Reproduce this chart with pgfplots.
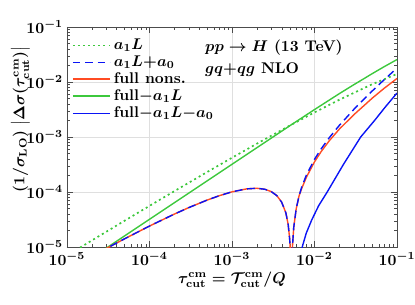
\documentclass[border=0pt]{standalone}
\usepackage{pgfplots}
\pgfplotsset{compat=1.18}
\definecolor{cgreen}{RGB}{60,200,60}
\definecolor{cblue}{RGB}{10,20,245}
\definecolor{cred}{RGB}{255,75,35}
\begin{document}
\boldmath\bfseries
\begin{tikzpicture}
\begin{loglogaxis}[
  width=213pt, height=142pt, scale only axis,
  xmin=1e-5,xmax=1e-1,ymin=1e-5,ymax=1e-1,
  grid=major, major grid style={gray!25},
  axis line style={gray!60!black},
  tick style={gray!60!black},
  major tick length=4pt, minor tick length=2pt,
  yticklabel style={xshift=1pt},
  xlabel={$\tau^{\mathrm{cm}}_{\mathrm{cut}}=\mathcal{T}^{\mathrm{cm}}_{\mathrm{cut}}/Q$},
  xlabel shift=-3pt,
  ylabel={$(1/\sigma_{\mathrm{LO}})\;\big|\Delta\sigma(\tau^{\mathrm{cm}}_{\mathrm{cut}})\big|$},
  ylabel shift=-9pt,
  every axis y label/.append style={at={(ticklabel cs:0.58)}, font=\fontsize{9.6}{11}\selectfont},
  legend style={at={(rel axis cs:0.0,0.975)}, anchor=north west, draw=none, fill=none, row sep=-1.5pt, font=\bfseries},
  legend cell align=left,
  legend image code/.code={\draw[#1] (0pt,0pt) -- (24pt,0pt);},
]
\addlegendimage{cgreen, line width=1.1pt, dash pattern=on 1.3pt off 2pt}
\addlegendentry{$a_1L$}
\addlegendimage{cblue, line width=1pt, dash pattern=on 5pt off 3pt}
\addlegendentry{$a_1L{+}a_0$}
\addlegendimage{cred, line width=1pt}
\addlegendentry{full nons.}
\addlegendimage{cgreen, line width=1pt}
\addlegendentry{full$-a_1L$}
\addlegendimage{cblue, line width=1pt}
\addlegendentry{full$-a_1L{-}a_0$}

% a1 L (dotted)
\addplot[forget plot, cgreen, line width=1.1pt, dash pattern=on 1.3pt off 2pt] coordinates {
(1e-5,6.99e-6) (2e-5,1.314e-5) (5e-5,3.006e-5) (1e-4,5.59e-5) (2e-4,1.034e-4) (5e-4,2.307e-4) (1e-3,4.193e-4) (2e-3,7.545e-4) (5e-3,1.608e-3) (1e-2,2.795e-3) (2e-2,4.749e-3) (5e-2,9.093e-3) (1e-1,1.398e-2)};

% full - a1 L (green solid)
\addplot[forget plot, cgreen, line width=0.9pt] coordinates {
(1e-5,3.19e-6) (1e-4,3.19e-5) (1e-3,3.19e-4) (5e-3,1.594e-3) (1e-2,3.149e-3) (2e-2,6.138e-3) (3e-2,8.929e-3) (4e-2,1.156e-2) (5e-2,1.4164e-2) (7e-2,1.899e-2) (1e-1,2.557e-2)};

% full - a1L - a0 (blue solid)
\addplot[forget plot, cblue, line width=0.9pt] coordinates {
(6.84e-3,3.16e-6) (7.10e-3,1e-5) (7.94e-3,1.78e-5) (9.25e-3,3.10e-5) (1.122e-2,5.62e-5) (1.426e-2,1.0e-4) (2.239e-2,3.16e-4) (3.63e-2,1.0e-3) (5.41e-2,2.04e-3) (7.08e-2,3.39e-3) (1e-1,6.31e-3)};

% full nons. (red)
\addplot[forget plot, cred, line width=0.9pt] coordinates {
(1e-5,3.80e-6) (2e-5,6.76e-6) (3e-5,9.40e-6) (5e-5,1.412e-5) (1e-4,2.403e-5) (2e-4,3.964e-5) (3e-4,5.209e-5) (5e-4,7.131e-5) (7e-4,8.551e-5) (1e-3,1.006e-4) (1.5e-3,1.139e-4) (2e-3,1.170e-4) (2.5e-3,1.122e-4) (3e-3,1.015e-4) (3.5e-3,8.57e-5) (4e-3,6.54e-5) (4.5e-3,4.17e-5) (4.8e-3,2.55e-5) (5e-3,1.41e-5) (5.1e-3,8.36e-6) (5.2e-3,2.40e-6) (5.24e-3,1e-7)
(5.3e-3,3.67e-6) (5.4e-3,9.87e-6) (5.6e-3,2.26e-5) (6e-3,4.93e-5) (6.5e-3,8.50e-5) (7e-3,1.16e-4) (8e-3,1.875e-4) (1e-2,3.53e-4) (1.2e-2,5.38e-4) (1.5e-2,8.44e-4) (2e-2,1.389e-3) (3e-2,2.543e-3) (4e-2,3.745e-3) (5e-2,5.07e-3) (7e-2,7.69e-3) (1e-1,1.159e-2)};

% a1L + a0 (blue dashed)
\addplot[forget plot, cblue, line width=0.9pt, dash pattern=on 5pt off 3pt] coordinates {
(1e-5,3.80e-6) (2e-5,6.76e-6) (3e-5,9.40e-6) (5e-5,1.412e-5) (1e-4,2.403e-5) (2e-4,3.964e-5) (3e-4,5.209e-5) (5e-4,7.131e-5) (7e-4,8.551e-5) (1e-3,1.006e-4) (1.5e-3,1.139e-4) (2e-3,1.170e-4) (2.5e-3,1.122e-4) (3e-3,1.015e-4) (3.5e-3,8.57e-5) (4e-3,6.54e-5) (4.5e-3,4.17e-5) (4.8e-3,2.55e-5) (5e-3,1.41e-5) (5.1e-3,8.36e-6) (5.2e-3,2.40e-6) (5.24e-3,1e-7)
(5.3e-3,3.67e-6) (5.4e-3,9.87e-6) (5.6e-3,2.26e-5) (6e-3,4.93e-5) (6.5e-3,8.50e-5) (7e-3,1.231e-4) (8e-3,2.055e-4) (1e-2,3.924e-4) (1.2e-2,6.04e-4) (1.5e-2,9.577e-4) (2e-2,1.626e-3) (3e-2,3.177e-3) (4e-2,4.935e-3) (5e-2,6.845e-3) (7e-2,1.101e-2) (1e-1,1.790e-2)};

\node[anchor=north west, align=left, inner sep=0pt] at (axis cs:4.7e-4,5.9e-2) {$pp\to H$ (13 TeV)\\[2pt] $gq{+}qg$ NLO};
\end{loglogaxis}
\pgfresetboundingbox
\path ([shift={(-43.2pt,-36.8pt)}]current axis.south west) rectangle ([shift={(11.6pt,17.4pt)}]current axis.north east);
\end{tikzpicture}
\end{document}
